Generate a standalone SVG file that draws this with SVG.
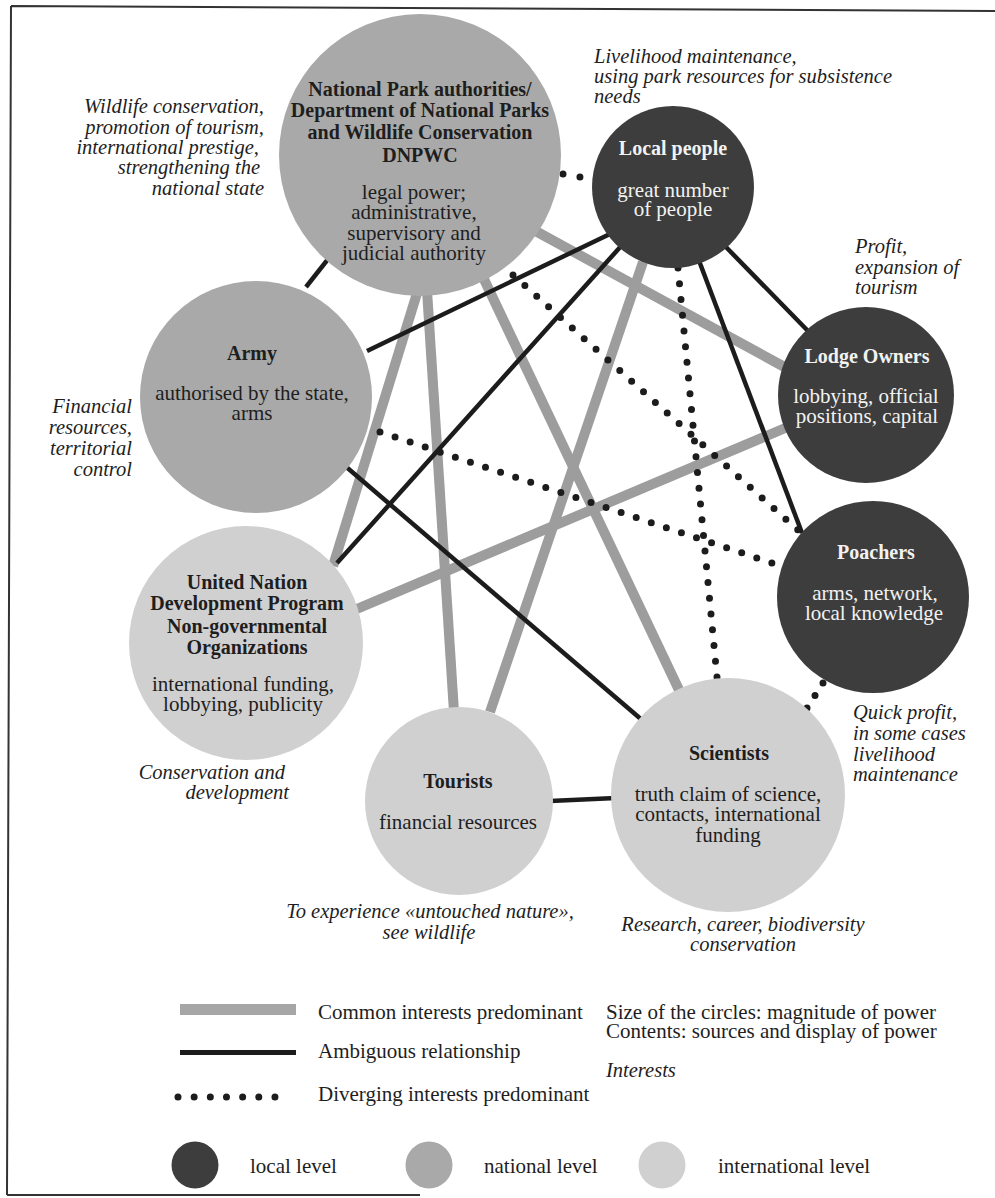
<svg xmlns="http://www.w3.org/2000/svg" width="995" height="1198" viewBox="0 0 995 1198">
<style>
text { font-family: "Liberation Serif", "Times New Roman", serif; fill: #1e1e1e; }
.b { font-weight: bold; font-size: 20px; }
.n { font-size: 21px; }
.i { font-style: italic; font-size: 20.5px; }
.w { fill: #f2f2f2; }
.c { text-anchor: middle; }
.e { text-anchor: end; }
.common { stroke: #9d9d9d; stroke-width: 10; fill: none; }
.amb { stroke: #1c1c1c; stroke-width: 4.5; fill: none; }
.div { stroke: #1c1c1c; stroke-width: 7; stroke-linecap: round; fill: none; }
.local { fill: #3d3d3d; }
.nat { fill: #a9a9a9; }
.intl { fill: #d0d0d0; }
.frame { stroke: #333; stroke-width: 2; fill: none; }
</style>

<g id="frame">
  <path class="frame" d="M11,6 L995,11 M11,6 L7,1195 M7,1195 L420,1195"/>
</g>

<g id="connectors">
  <!-- common interests -->
  <line class="common" x1="530" y1="228" x2="790" y2="370"/>
  <line class="common" x1="418" y1="290" x2="333" y2="566"/>
  <line class="common" x1="427" y1="290" x2="454" y2="712"/>
  <line class="common" x1="482" y1="275" x2="680" y2="692"/>
  <line class="common" x1="643" y1="262" x2="490" y2="712"/>
  <line class="common" x1="790" y1="426" x2="352" y2="611"/>
  <!-- ambiguous -->
  <line class="amb" x1="306" y1="287" x2="332" y2="254"/>
  <line class="amb" x1="612" y1="233" x2="367" y2="351"/>
  <line class="amb" x1="622" y1="245" x2="337" y2="563"/>
  <line class="amb" x1="724" y1="245" x2="808" y2="331"/>
  <line class="amb" x1="698" y1="258" x2="802" y2="533"/>
  <line class="amb" x1="344" y1="465" x2="642" y2="720"/>
  <line class="amb" x1="550" y1="801" x2="616" y2="798" stroke-width="5"/>
  <!-- diverging -->
  <line class="div" x1="563" y1="174" x2="580" y2="177" stroke-dasharray="0 17.2"/>
  <line class="div" x1="513" y1="275" x2="798" y2="530" stroke-dasharray="0 15.92"/>
  <line class="div" x1="678" y1="268" x2="717" y2="677" stroke-dasharray="0 15.8"/>
  <line class="div" x1="380" y1="432" x2="772" y2="563" stroke-dasharray="0 15.89"/>
  <line class="div" x1="823" y1="683" x2="807" y2="708" stroke-dasharray="0 14.83"/>
</g>

<g id="dnpwc">
  <circle class="nat" cx="420" cy="155" r="141"/>
  <text class="b c" x="420" y="96">National Park authorities/</text>
  <text class="b c" x="420" y="117">Department of National Parks</text>
  <text class="b c" x="420" y="139">and Wildlife Conservation</text>
  <text class="b c" x="420" y="162">DNPWC</text>
  <text class="n c" x="414" y="199">legal power;</text>
  <text class="n c" x="414" y="219">administrative,</text>
  <text class="n c" x="414" y="240">supervisory and</text>
  <text class="n c" x="414" y="260">judicial authority</text>
  <text class="i e" x="264" y="113">Wildlife conservation,</text>
  <text class="i e" x="264" y="134">promotion of tourism,</text>
  <text class="i e" x="259" y="154">international prestige,</text>
  <text class="i e" x="260" y="174">strengthening the</text>
  <text class="i e" x="264" y="195">national state</text>
</g>

<g id="local-people">
  <circle class="local" cx="673" cy="187" r="81"/>
  <text class="b c w" x="673" y="155">Local people</text>
  <text class="n c w" x="673" y="197">great number</text>
  <text class="n c w" x="673" y="216">of people</text>
  <text class="i" x="594" y="63">Livelihood maintenance,</text>
  <text class="i" x="594" y="83">using park resources for subsistence</text>
  <text class="i" x="594" y="103">needs</text>
</g>

<g id="lodge-owners">
  <circle class="local" cx="866" cy="395" r="88"/>
  <text class="b c w" x="867" y="363">Lodge Owners</text>
  <text class="n c w" x="866" y="403">lobbying, official</text>
  <text class="n c w" x="867" y="423">positions, capital</text>
  <text class="i" x="855" y="253">Profit,</text>
  <text class="i" x="855" y="274">expansion of</text>
  <text class="i" x="855" y="294">tourism</text>
</g>

<g id="poachers">
  <circle class="local" cx="873" cy="597" r="96"/>
  <text class="b c w" x="876" y="559">Poachers</text>
  <text class="n c w" x="875" y="600">arms, network,</text>
  <text class="n c w" x="874" y="620">local knowledge</text>
  <text class="i" x="853" y="719">Quick profit,</text>
  <text class="i" x="853" y="740">in some cases</text>
  <text class="i" x="853" y="761">livelihood</text>
  <text class="i" x="853" y="781">maintenance</text>
</g>

<g id="army">
  <circle class="nat" cx="256" cy="397" r="116"/>
  <text class="b c" x="252" y="360">Army</text>
  <text class="n c" x="252" y="400">authorised by the state,</text>
  <text class="n c" x="252" y="420">arms</text>
  <text class="i e" x="132" y="413">Financial</text>
  <text class="i e" x="132" y="434">resources,</text>
  <text class="i e" x="132" y="455">territorial</text>
  <text class="i e" x="132" y="476">control</text>
</g>

<g id="undp-ngo">
  <circle class="intl" cx="246" cy="643" r="117"/>
  <text class="b c" x="247" y="589">United Nation</text>
  <text class="b c" x="247" y="610">Development Program</text>
  <text class="b c" x="247" y="633">Non-governmental</text>
  <text class="b c" x="247" y="654">Organizations</text>
  <text class="n c" x="243" y="691">international funding,</text>
  <text class="n c" x="243" y="711">lobbying, publicity</text>
  <text class="i e" x="285" y="779">Conservation and</text>
  <text class="i e" x="289" y="799">development</text>
</g>

<g id="tourists">
  <circle class="intl" cx="459" cy="801" r="94"/>
  <text class="b c" x="458" y="788">Tourists</text>
  <text class="n c" x="458" y="829">financial resources</text>
  <text class="i c" x="430" y="918">To experience «untouched nature»,</text>
  <text class="i c" x="429" y="939">see wildlife</text>
</g>

<g id="scientists">
  <circle class="intl" cx="728" cy="795" r="117"/>
  <text class="b c" x="729" y="760">Scientists</text>
  <text class="n c" x="728" y="801">truth claim of science,</text>
  <text class="n c" x="728" y="821">contacts, international</text>
  <text class="n c" x="728" y="842">funding</text>
  <text class="i c" x="743" y="931">Research, career, biodiversity</text>
  <text class="i c" x="743" y="951">conservation</text>
</g>

<g id="legend">
  <rect x="180" y="1004" width="116" height="11" fill="#a6a6a6"/>
  <text class="n" x="318" y="1019">Common interests predominant</text>
  <rect x="180" y="1050" width="116" height="5" fill="#1c1c1c"/>
  <text class="n" x="318" y="1058">Ambiguous relationship</text>
  <line class="div" x1="178" y1="1097" x2="275" y2="1097" stroke-dasharray="0 16.16"/>
  <text class="n" x="318" y="1101">Diverging interests predominant</text>
  <text class="n" x="606" y="1019">Size of the circles: magnitude of power</text>
  <text class="n" x="606" y="1038">Contents: sources and display of power</text>
  <text class="i" x="606" y="1077">Interests</text>
  <circle class="local" cx="195" cy="1165" r="23.5"/>
  <text class="n" x="250" y="1173">local level</text>
  <circle class="nat" cx="429" cy="1165" r="23.5"/>
  <text class="n" x="484" y="1173">national level</text>
  <circle class="intl" cx="662" cy="1165" r="23.5"/>
  <text class="n" x="718" y="1173">international level</text>
</g>
</svg>
